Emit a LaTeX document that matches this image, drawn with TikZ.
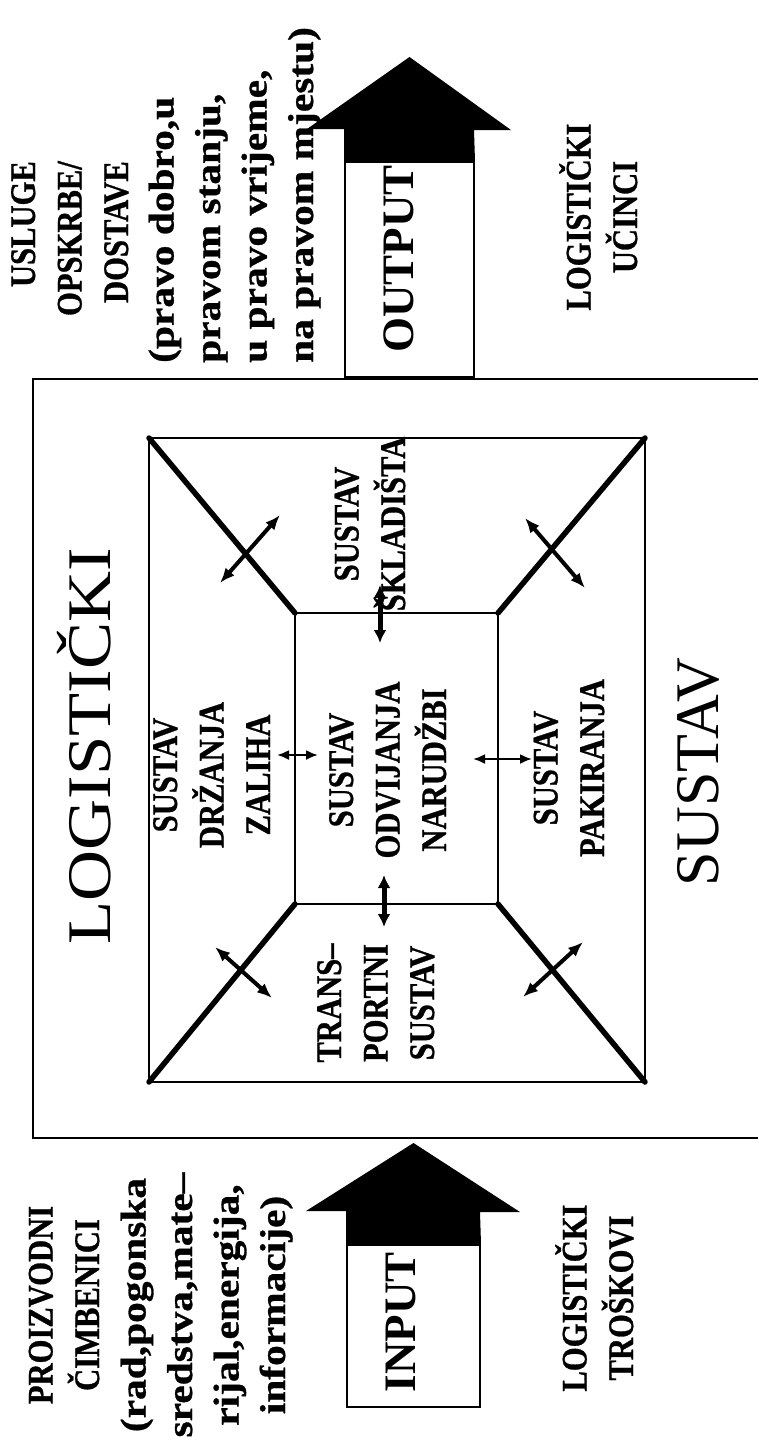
\documentclass[tikz,border=0pt]{standalone}
\usepackage{fontspec}
\setmainfont{Liberation Serif}
\newfontfamily\lblfont[FakeStretch=0.85, FakeBold=0.8]{Liberation Serif}
\newfontfamily\lcfont[FakeStretch=1.15, FakeBold=0.8]{Liberation Serif}
\newfontfamily\widefont[FakeStretch=1.14]{Liberation Serif}
\usetikzlibrary{positioning,arrows.meta}

\begin{document}
\begin{tikzpicture}[
x=1pt, y=-1pt,
every node/.style={rotate=90, inner sep=0pt, anchor=base},
lbl/.style={align=center, font=\lblfont\bfseries\fontsize{36}{46.5}\selectfont},
lc/.style={lbl, font=\lcfont\bfseries\fontsize{36}{46.5}\selectfont},
big/.style={font=\fontsize{62}{70}\selectfont},
io/.style={font=\bfseries\fontsize{45}{50}\selectfont},
iobox/.style={draw, line width=2pt, fill=white, anchor=center},
frame/.style={line width=2pt},
rim/.style={line width=2.5pt},
diag/.style={line width=5.5pt, line cap=round},
link/.style={{Latex[length=15pt,width=12pt]}-{Latex[length=15pt,width=12pt]}, line width=4pt},
thin link/.style={{Latex[length=12pt,width=10pt]}-{Latex[length=12pt,width=10pt]}, line width=2.2pt},
thick link/.style={{Latex[length=13pt,width=13pt]}-{Latex[length=13pt,width=13pt]}, line width=5pt}
]
\path[use as bounding box, fill=white] (0,0) rectangle (758,1443);

% Outer frame (open on the right)
\draw[frame] (758,379) -- (33,379) -- (33,1138) -- (758,1138);

% Corners of the inner frame and of the middle square
\foreach \n/\x/\y in {a1/149/438, a2/645/438, a3/645/1082, a4/149/1082,
                      b1/295/613, b2/498/613, b3/498/904, b4/295/904}{
    \coordinate (\n) at (\x,\y);
}
\draw[rim] (a1) -- (a2) -- (a3) -- (a4) -- cycle;
\draw[rim] (b1) -- (b2) -- (b3) -- (b4) -- cycle;
\foreach \i in {1,...,4}{
    \draw[diag] (a\i) -- (b\i);
}

% Double arrows across the diagonals
\foreach \n/\x/\y in {p1/280/515, q1/220/583, p2/525/518, q2/585/588,
                      p3/272/998, q3/215/947, p4/523/997, q4/583/942}{
    \coordinate (\n) at (\x,\y);
}
\foreach \i in {1,...,4}{
    \draw[link] (p\i) -- (q\i);
}

% Double arrows across the middle square
\foreach \n/\x/\y in {l1/277/755, l2/318/755, r1/473/759, r2/532/759,
                      t1/380/585, t2/380/643, d1/384/875, d2/384/927}{
    \coordinate (\n) at (\x,\y);
}
\draw[thin link] (l1) -- (l2);
\draw[thin link] (r1) -- (r2);
\draw[thick link] (t1) -- (t2);
\draw[thick link] (d1) -- (d2);

% Input and output arrows
\node[iobox, minimum width=162pt, minimum height=133pt] (in) at (413.5,1326) {};
\node[iobox, minimum width=215pt, minimum height=129pt] (out) at (409.5,269.5) {};
\coordinate (in tip) at (413.5,1143);
\coordinate (out tip) at (409.5,57);
\fill (in.north east) -- ++(0,-33) -- ++(-40,0) -- (in tip) -- (520,1212) -- ++(-40,0) -- (in.south east) -- cycle;
\fill (out.north east) -- ++(0,-32) -- ++(-37,0) -- (out tip) -- (511,130) -- ++(-37,0) -- (out.south east) -- cycle;
\node[io] (in txt) at (415,1322) {INPUT};
\node[io] (out txt) at (413,259) {OUTPUT};

% Titles
\node[big, font=\widefont\fontsize{62}{70}\selectfont] (logi) at (110,746) {LOGISTIČKI};
\node[big] (sust) at (718,772) {SUSTAV};

% Subsystems (anchored at the baseline of the last line)
\node[lbl] (stock) at (270,775) {SUSTAV\\DRŽANJA\\ZALIHA};
\node[lbl] (order) at (446,770) {SUSTAV\\ODVIJANJA\\NARUDŽBI};
\node[lbl] (pack) at (604,768) {SUSTAV\\PAKIRANJA};
\node[lbl] (store) at (405,524) {SUSTAV\\ŠKLADIŠTA};
\node[lbl] (trans) at (434,1003) {TRANS–\\PORTNI\\SUSTAV};

% Outside texts
\node[lbl] (fac) at (285,1305) {PROIZVODNI\\ČIMBENICI\\{\lcfont(rad,pogonska}\\{\lcfont sredstva,mate–}\\{\lcfont rijal,energija,}\\{\lcfont informacije)}};
\node[lbl, align=right, anchor=base east] (serv) at (128,161) {USLUGE\\OPSKRBE/\\DOSTAVE};
\node[lc, align=left, anchor=base west] (right) at (313,363) {(pravo dobro,u\\pravom stanju,\\u pravo vrijeme,\\na pravom mjestu)};
\node[lbl] (eff) at (637,217) {LOGISTIČKI\\UČINCI};
\node[lbl] (cost) at (633,1298) {LOGISTIČKI\\TROŠKOVI};
\end{tikzpicture}
\end{document}
